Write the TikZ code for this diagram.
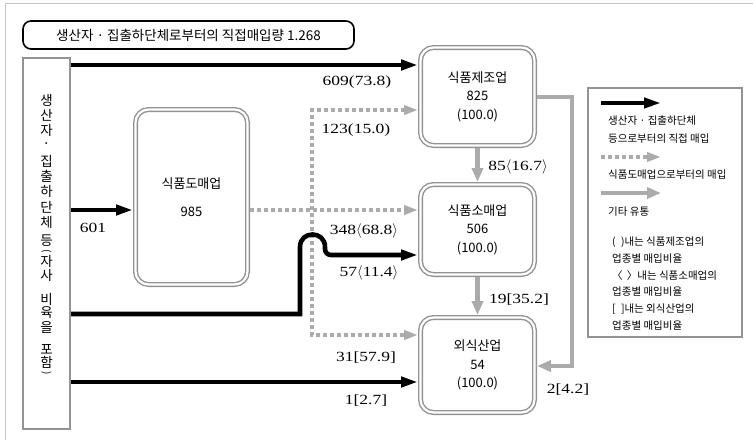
\documentclass[tikz,border=0pt]{standalone}
\usepackage{fontspec}
\setmainfont{Noto Sans CJK KR}
\newfontfamily\numfont[FakeStretch=1.25]{Liberation Serif}
\usetikzlibrary{arrows.meta}

\definecolor{boxgray}{HTML}{939393}
\definecolor{flowgray}{HTML}{ABABAB}
\definecolor{framegray}{HTML}{C4C4C4}

\tikzset{
  titlebox/.style={draw=black, line width=1.6pt, rounded corners=8pt, minimum width=331pt, minimum height=28pt, font=\fontsize{13.5}{15}\selectfont},
  srcbox/.style={draw=boxgray, line width=1.8pt, inner sep=0pt, minimum width=47.2pt, minimum height=371.2pt},
  legbox/.style={draw=boxgray, line width=1.8pt, inner sep=0pt, minimum width=154pt, minimum height=249pt},
  dbox/.style={draw=boxgray, double=white, line width=1.4pt, double distance=2.2pt, rounded corners=13pt, outer sep=2.5pt, align=center, font=\fontsize{13}{18.5}\selectfont},
  vtext/.style={font=\fontsize{13.5}{15}\selectfont, inner sep=0pt},
  num/.style={font=\numfont\fontsize{14}{16}\selectfont, inner sep=0pt},
  legtext/.style={font=\fontsize{10.5}{18}\selectfont, align=left, anchor=west, inner sep=0pt},
  direct/.style={draw=black, line width=4.6pt, -{Triangle[length=17pt,width=10pt]}},
  flow/.style={draw=flowgray, line width=4.6pt, -{Triangle[length=14pt,width=11pt]}},
  dotline/.style={draw=flowgray, line width=4pt, dash pattern=on 4pt off 3pt},
  dottip/.style={-{Triangle[length=14pt,width=9pt]}}
}

\begin{document}
\begin{tikzpicture}[x=1pt,y=-1pt]
\useasboundingbox (0,0) rectangle (753,440);

% frame
\draw[framegray, line width=0.8pt] (5,440) -- (5,3) -- (753,3);

% boxes
\node[titlebox] (title) at (188.5,35) {생산자 · 집출하단체로부터의 직접매입량 1.268};
\node[srcbox] (src) at (46.5,243.5) {};
\node[dbox, minimum width=112pt, minimum height=175pt] (whole) at (191.5,197) {식품도매업\\[9pt]985};
\node[dbox, minimum width=114pt, minimum height=98pt] (maker) at (477.5,96.5) {식품제조업\\825\\(100.0)};
\node[dbox, minimum width=114pt, minimum height=90pt] (retail) at (477.5,229.5) {식품소매업\\506\\(100.0)};
\node[dbox, minimum width=114pt, minimum height=95pt] (dining) at (477.5,365) {외식산업\\54\\(100.0)};
\node[legbox] (legend) at (665,212.5) {};

% vertical text of the source box
\foreach \ch/\yy [count=\i] in {생/100,산/115.3,자/130.6,·/145.9,집/161.2,출/176.5,하/191.8,단/207.1,체/222.4,등/241,자/261,사/275,비/299,육/313,을/327,포/349,함/362.5}
  \node[vtext] (vt\i) at (46.5,\yy) {\ch};
\node[vtext, font=\fontsize{10}{10}\selectfont] (vpo) at (46.5,251.5) {\rotatebox{-90}{(}};
\node[vtext, font=\fontsize{10}{10}\selectfont] (vpc) at (46.5,373.5) {\rotatebox{-90}{)}};

% rows
\coordinate (rTop) at (0,65);
\coordinate (rDot1) at (312,110);
\coordinate (rMain) at (0,210);
\coordinate (rHop) at (0,255);
\coordinate (rLow) at (300,314);
\coordinate (rDot3) at (312,335);
\coordinate (rBot) at (0,382);
\coordinate (rRet1) at (572,97);
\coordinate (rRet2) at (572,366);

% via wholesale
\draw[dotline, dottip] (whole.east |- rMain) -- (retail.west |- rMain);
\draw[dotline, {Triangle[length=14pt,width=9pt]}-{Triangle[length=14pt,width=9pt]}] (maker.west |- rDot1) -- (rDot1) -- (rDot3) -- (dining.west |- rDot3);

% direct
\draw[direct] (src.east |- rTop) -- (maker.west |- rTop);
\draw[direct] (src.east |- rMain) -- (whole.west |- rMain);
\draw[direct] (src.east |- rLow) -- (rLow) -- (300,247) .. controls (300,230.3) and (325,230.3) .. (325,247) [rounded corners=6pt] -- (325,255) -- (retail.west |- rHop);
\draw[direct] (src.east |- rBot) -- (dining.west |- rBot);

% other
\draw[flow] (maker.south) -- (retail.north);
\draw[flow] (retail.south) -- (dining.north);
\draw[flow] (maker.east |- rRet1) -- (rRet1) -- (rRet2) -- (dining.east |- rRet2);

% values
\node[num] (l609) at (357,82) {609(73.8)};
\node[num] (l123) at (356,130) {123(15.0)};
\node[num] (l601) at (93,228) {601};
\node[num] (l348) at (364,231) {348$\langle$68.8$\rangle$};
\node[num] (l57) at (369,273) {57$\langle$11.4$\rangle$};
\node[num] (l31) at (366,358) {31[57.9]};
\node[num] (l1) at (366,401) {1[2.7]};
\node[num] (l85) at (518,167) {85$\langle$16.7$\rangle$};
\node[num] (l19) at (519,300) {19[35.2]};
\node[num] (l2) at (568,390) {2[4.2]};

% legend
\coordinate (kA) at (601,103);
\coordinate (kAe) at (661,103);
\coordinate (kB) at (601,157);
\coordinate (kBe) at (661,157);
\coordinate (kC) at (601,193);
\coordinate (kCe) at (661,193);
\draw[direct, line width=4pt] (kA) -- (kAe);
\draw[dotline, dottip] (kB) -- (kBe);
\draw[flow, line width=4pt] (kC) -- (kCe);
\node[legtext] (legA) at (608,130) {생산자 · 집출하단체\\등으로부터의 직접 매입};
\node[legtext] (legB) at (608,175) {식품도매업으로부터의 매입};
\node[legtext] (legC) at (608,212) {기타 유통};
\node[legtext, font=\fontsize{10.5}{16.7}\selectfont] (legD) at (612,283.5) {(\hspace{.5em})내는 식품제조업의\\업종별 매입비율\\〈\hspace{.4em}〉내는 식품소매업의\\업종별 매입비율\\{}[\hspace{.5em}]내는 외식산업의\\업종별 매입비율};

\end{tikzpicture}
\end{document}
